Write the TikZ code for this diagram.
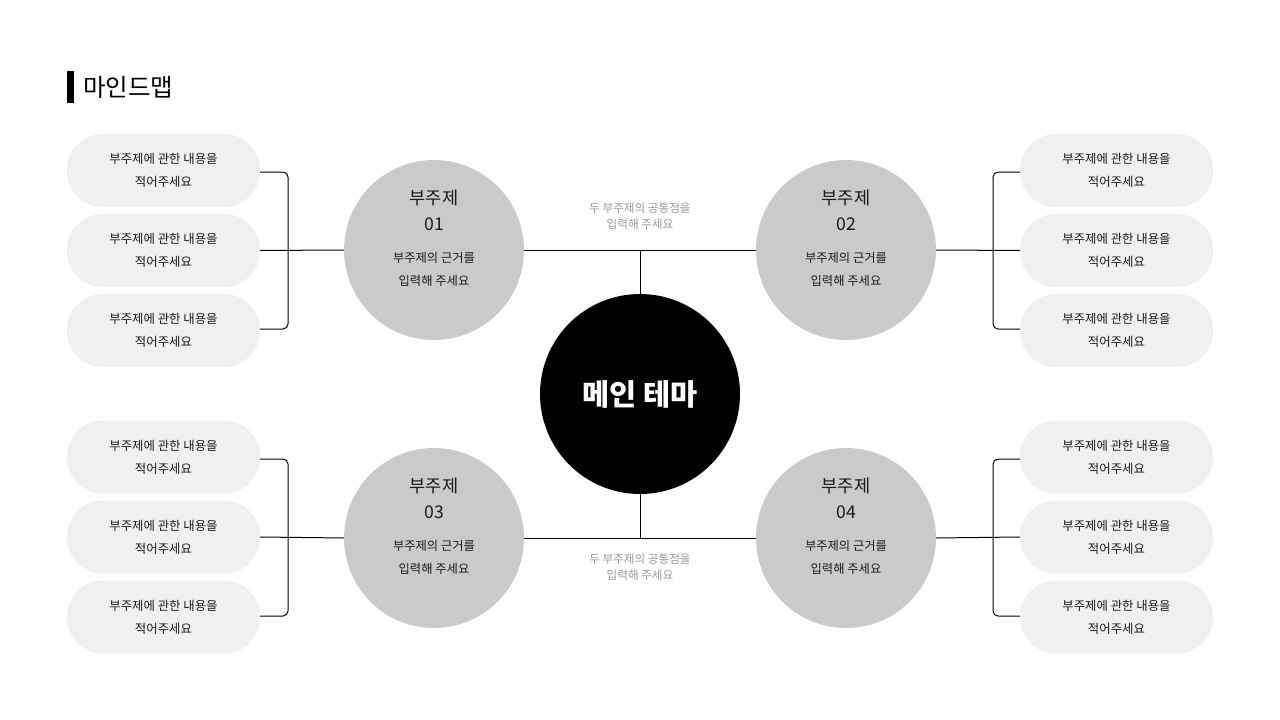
\documentclass[tikz,border=0pt]{standalone}
\usepackage{fontspec}
\setmainfont{Noto Sans CJK KR}
\definecolor{pillgray}{HTML}{F0F0F0}
\definecolor{circgray}{HTML}{CACACA}
\definecolor{txtgray}{HTML}{999999}
\definecolor{ink}{HTML}{1A1A1A}
\tikzset{
  pill/.style={rectangle, rounded corners=36pt, minimum width=193pt, minimum height=73pt,
    fill=pillgray, draw=none, align=center, text=ink, inner sep=0pt,
    font=\fontsize{12.4}{23}\selectfont},
  subcirc/.style={circle, fill=circgray, draw=none, minimum size=180pt, inner sep=0pt},
  maincirc/.style={circle, fill=black, draw=none, minimum size=200pt, inner sep=0pt,
    text=white, font=\fontsize{29.5}{34}\selectfont\bfseries},
  subtitle/.style={text=ink, inner sep=0pt, font=\fontsize{17.6}{20}\selectfont},
  subbody/.style={text=ink, inner sep=0pt, font=\fontsize{12.3}{14}\selectfont},
  common/.style={text=txtgray, align=center, inner sep=0pt, font=\fontsize{11.6}{16}\selectfont},
  conn/.style={draw=black, line width=1pt},
  brack/.style={draw=black, line width=1pt, rounded corners=5pt},
}
\newcommand{\pilltext}{부주제에 관한 내용을\\적어주세요}
\begin{document}
\begin{tikzpicture}[x=1pt,y=-1pt]
\path[fill=white] (0,0) rectangle (1280,720);
\useasboundingbox (0,0) rectangle (1280,720);

% title
\fill[black] (67,71) rectangle (74,103);
\node[anchor=west, inner sep=0pt, font=\fontsize{24.5}{28}\selectfont, text=black] (title) at (83,87) {마인드맵};

% main circle
\node[maincirc] (main) at (640,394) {메인 테마};

% sub circles
\node[subcirc] (c1) at (434,250) {};
\node[subcirc] (c2) at (846,250) {};
\node[subcirc] (c3) at (434,538) {};
\node[subcirc] (c4) at (846,538) {};

\foreach \c/\n in {c1/01,c2/02,c3/03,c4/04}{
  \node[subtitle] (\c t) at ([yshift=52pt]\c.center) {부주제};
  \node[subtitle] (\c n) at ([yshift=26pt]\c.center) {\n};
  \node[subbody] (\c a) at ([yshift=-8pt]\c.center) {부주제의 근거를};
  \node[subbody] (\c b) at ([yshift=-31pt]\c.center) {입력해 주세요};
}

% pills left
\node[pill] (l1) at (163.5,170.5) {\pilltext};
\node[pill] (l2) at (163.5,250.5) {\pilltext};
\node[pill] (l3) at (163.5,330.5) {\pilltext};
\node[pill] (l4) at (163.5,457) {\pilltext};
\node[pill] (l5) at (163.5,537) {\pilltext};
\node[pill] (l6) at (163.5,617) {\pilltext};
% pills right
\node[pill] (r1) at (1116.5,170.5) {\pilltext};
\node[pill] (r2) at (1116.5,250.5) {\pilltext};
\node[pill] (r3) at (1116.5,330.5) {\pilltext};
\node[pill] (r4) at (1116.5,457) {\pilltext};
\node[pill] (r5) at (1116.5,537) {\pilltext};
\node[pill] (r6) at (1116.5,617) {\pilltext};

% brackets
\coordinate (bl1) at (288,172);
\coordinate (bl3) at (288,329);
\coordinate (bl4) at (288,459);
\coordinate (bl6) at (288,616);
\coordinate (br1) at (993,172);
\coordinate (br3) at (993,329);
\coordinate (br4) at (993,459);
\coordinate (br6) at (993,616);
\draw[brack] (l1.east |- bl1) -- (bl1) -- (bl3) -- (l3.east |- bl3);
\draw[brack] (l4.east |- bl4) -- (bl4) -- (bl6) -- (l6.east |- bl6);
\draw[brack] (r1.west |- br1) -- (br1) -- (br3) -- (r3.west |- br3);
\draw[brack] (r4.west |- br4) -- (br4) -- (br6) -- (r6.west |- br6);

% branch lines
\draw[conn] (l2.east) -- (c1.west);
\draw[conn] (l5.east) -- (c3.west);
\draw[conn] (c2.east) -- (r2.west);
\draw[conn] (c4.east) -- (r5.west);

% links between subtopics
\draw[conn] (c1.east) -- (c2.west);
\draw[conn] (c3.east) -- (c4.west);
\coordinate (jt) at (640,250);
\coordinate (jb) at (640,538);
\draw[conn] (jt) -- (main.north);
\draw[conn] (main.south) -- (jb);

% common texts
\node[common] (ct) at (640,216) {두 부주제의 공통점을\\입력해 주세요};
\node[common] (cb) at (640,567) {두 부주제의 공통점을\\입력해 주세요};
\end{tikzpicture}
\end{document}
